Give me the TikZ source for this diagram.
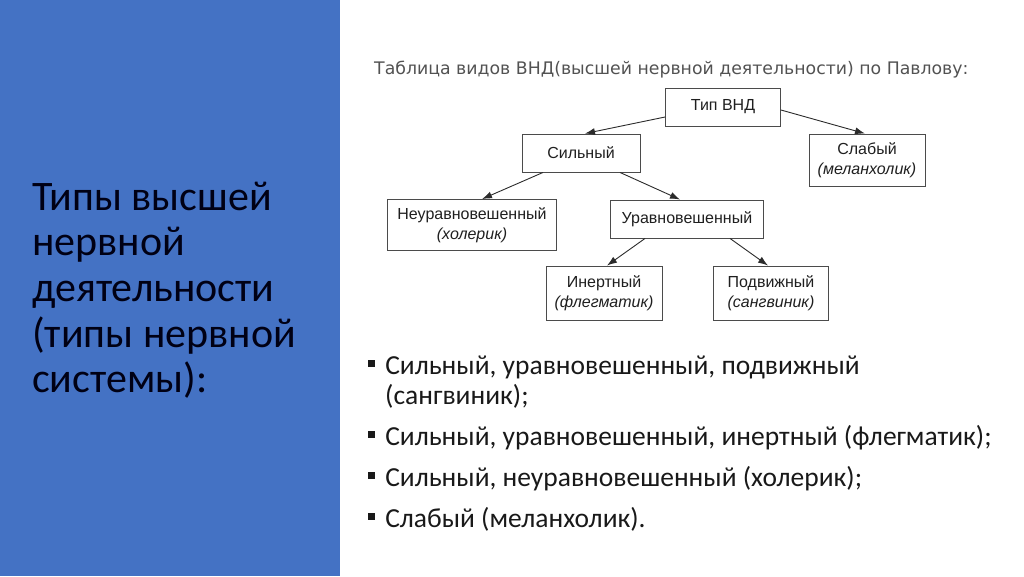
\documentclass[tikz,border=0pt]{standalone}
\usepackage{fontspec}
\setmainfont{Carlito}
\newfontfamily\diagfont{Liberation Sans}
\newfontfamily\capfont{DejaVu Sans}
\usetikzlibrary{arrows.meta, positioning, calc}

\definecolor{slideblue}{HTML}{4472C4}
\definecolor{inkgrey}{HTML}{2B2B2B}
\newcommand\sqbul{\rule[0.27em]{0.25em}{0.25em}\hspace{0.37em}}

\begin{document}
\begin{tikzpicture}[
    x=1pt, y=-1pt,
    typebox/.style={rectangle, draw=inkgrey!85, line width=0.9pt, minimum height=38pt, inner xsep=6pt, align=center, text=black!88, font=\diagfont\fontsize{16}{19.5}\selectfont},
    arrow/.style={-{Latex[length=10pt, width=7pt]}, draw=inkgrey, line width=0.9pt},
    bullettext/.style={anchor=base west, inner sep=0pt, text=black!90, font=\fontsize{27.5}{30}\selectfont},
    headline/.style={anchor=base west, inner sep=0pt, text=black!92!blue, font=\fontsize{42}{46}\selectfont},
]
\useasboundingbox (0,0) rectangle (1024,576);

% Left panel
\fill[slideblue] (0,0) rectangle (340,576);
\node[headline] (head1) at (32,210) {Типы высшей};
\node[headline] (head2) at (32,255) {нервной};
\node[headline] (head3) at (32,301) {деятельности};
\node[headline] (head4) at (32,347) {(типы нервной};
\node[headline] (head5) at (32,392) {системы):};

% Diagram caption
\node[anchor=base west, inner sep=0pt, text=black!68, font=\capfont\fontsize{17.3}{20}\selectfont] (caption) at (374,74)
  {Таблица видов ВНД(высшей нервной деятельности) по Павлову:};

% Tree of types
\node[typebox, minimum width=115pt] (tip) at (723,107) {Тип ВНД};
\node[typebox, minimum width=118pt] (strong) at (581,153) {Сильный};
\node[typebox, minimum width=116pt, minimum height=52pt] (weak) at (867,160) {Слабый\\\textit{(меланхолик)}};
\node[typebox, minimum width=169pt, minimum height=51pt] (unbal) at (472,225) {Неуравновешенный\\\textit{(холерик)}};
\node[typebox, minimum width=153pt] (bal) at (687,219) {Уравновешенный};
\node[typebox, minimum width=116pt, minimum height=54pt] (inert) at (604,293) {Инертный\\\textit{(флегматик)}};
\node[typebox, minimum width=115pt, minimum height=54pt] (mobile) at (771,293) {Подвижный\\\textit{(сангвиник)}};

\draw[arrow] ([yshift=-10pt]tip.west) -- ([xshift=4pt]strong.north);
\draw[arrow] ([yshift=-3pt]tip.east) -- ([xshift=-2pt]weak.north);
\draw[arrow] ([xshift=-38pt]strong.south) -- ([xshift=10pt]unbal.north);
\draw[arrow] ([xshift=39pt]strong.south) -- ([xshift=-7pt]bal.north);
\draw[arrow] ([xshift=-42pt]bal.south) -- ([xshift=3pt]inert.north);
\draw[arrow] ([xshift=43pt]bal.south) -- ([xshift=-3pt]mobile.north);

% Bullet list
\node[bullettext] (item1) at (368,374) {\sqbul Сильный, уравновешенный, подвижный};
\node[bullettext] (item1b) at (385,404) {(сангвиник);};
\node[bullettext] (item2) at (368,445) {\sqbul Сильный, уравновешенный, инертный (флегматик);};
\node[bullettext] (item3) at (368,486) {\sqbul Сильный, неуравновешенный (холерик);};
\node[bullettext] (item4) at (368,527) {\sqbul Слабый (меланхолик).};

\end{tikzpicture}
\end{document}
